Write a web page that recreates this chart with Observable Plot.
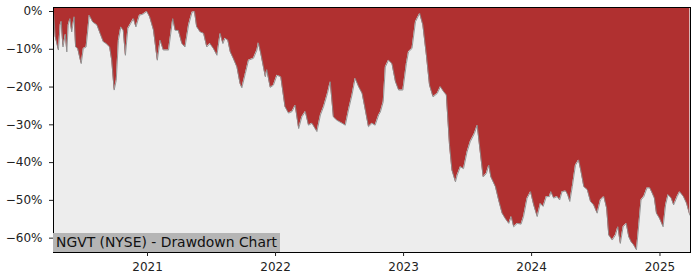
<!DOCTYPE html>
<html><head><meta charset="utf-8">
<script src="https://cdn.jsdelivr.net/npm/d3@7"></script>
<script src="https://cdn.jsdelivr.net/npm/@observablehq/plot@0.6"></script>
<style>
body{margin:0;background:#fff;}
#chart{position:relative;width:700px;height:280px;font-family:"DejaVu Sans",sans-serif;}
#label{position:absolute;left:53px;top:233px;height:19px;line-height:19px;padding:0 3px;background:#b5b5b5;font-size:13.9px;color:#111;white-space:nowrap;}
</style></head><body>
<div id="chart"><div id="label"></div></div>
<script>
const chartTitle = "NGVT (NYSE) - Drawdown Chart";
const dates = [
"2020-04-08","2020-04-13","2020-04-22","2020-04-27","2020-04-30","2020-05-05","2020-05-12","2020-05-16","2020-05-20","2020-05-25","2020-05-30","2020-06-06","2020-06-10","2020-06-16","2020-06-26","2020-07-02","2020-07-10","2020-07-19","2020-07-29","2020-08-10","2020-08-19","2020-08-28","2020-09-05","2020-09-15","2020-09-21","2020-09-28","2020-10-04","2020-10-10","2020-10-17","2020-10-24","2020-10-30","2020-11-06","2020-11-14","2020-11-22","2020-11-29","2020-12-09","2020-12-19","2020-12-30",
"2021-01-07","2021-01-18","2021-01-29","2021-02-06","2021-02-15","2021-03-02","2021-03-14","2021-03-21","2021-03-30","2021-04-09","2021-04-18","2021-04-28","2021-05-08","2021-05-15","2021-05-21","2021-05-31","2021-06-10","2021-06-19","2021-06-28","2021-07-08","2021-07-18","2021-07-27","2021-08-04","2021-08-10","2021-08-18","2021-08-25","2021-09-03","2021-09-13","2021-09-22","2021-09-27","2021-10-07","2021-10-16","2021-10-30","2021-11-09","2021-11-13","2021-11-20","2021-12-03","2021-12-07","2021-12-17","2021-12-26",
"2022-01-05","2022-01-16","2022-01-28","2022-02-07","2022-02-17","2022-02-26","2022-03-08","2022-03-17","2022-03-27","2022-04-05","2022-04-15","2022-04-29","2022-05-09","2022-05-18","2022-05-29","2022-06-06","2022-06-15","2022-06-25","2022-07-10","2022-07-19","2022-07-28","2022-08-07","2022-08-16","2022-08-26","2022-09-05","2022-09-14","2022-09-23","2022-10-03","2022-10-12","2022-10-22","2022-10-27","2022-11-04","2022-11-10","2022-11-19","2022-11-29","2022-12-09","2022-12-18","2022-12-30",
"2023-01-09","2023-01-15","2023-01-25","2023-02-04","2023-02-16","2023-02-25","2023-03-07","2023-03-16","2023-03-26","2023-04-07","2023-04-16","2023-04-25","2023-05-03","2023-05-12","2023-05-19","2023-05-29","2023-06-03","2023-06-12","2023-06-21","2023-07-01","2023-07-10","2023-07-22","2023-07-30","2023-08-06","2023-08-16","2023-08-25","2023-09-01","2023-09-07","2023-09-20","2023-09-29","2023-10-09","2023-10-18","2023-10-28","2023-11-04","2023-11-11","2023-11-21","2023-12-02","2023-12-09","2023-12-19","2023-12-29",
"2024-01-07","2024-01-17","2024-01-26","2024-02-03","2024-02-12","2024-02-21","2024-02-25","2024-03-04","2024-03-14","2024-03-21","2024-03-28","2024-04-07","2024-04-13","2024-04-19","2024-04-26","2024-05-05","2024-05-14","2024-05-21","2024-05-29","2024-06-08","2024-06-17","2024-06-26","2024-07-06","2024-07-15","2024-07-25","2024-08-02","2024-08-08","2024-08-18","2024-08-27","2024-09-03","2024-09-10","2024-09-18","2024-09-27","2024-10-04","2024-10-11","2024-10-18","2024-10-26","2024-11-02","2024-11-08","2024-11-16","2024-11-25","2024-12-03","2024-12-10","2024-12-16","2024-12-22","2024-12-31",
"2025-01-10","2025-01-17","2025-01-24","2025-02-02","2025-02-09","2025-02-19","2025-02-26","2025-03-09","2025-03-18","2025-03-27"
];
const drawdown = [
0,-6.7,-10.2,-3.6,-2.6,-9.4,-6,-10.7,-3.6,-1.9,-5.4,-1.4,-9.4,-9.8,-13.8,-9.8,-9.4,-1,-2.8,-3.6,-5.8,-8,-8.5,-9.4,-12.9,-20.8,-18.2,-7.6,-4.1,-5,-11.6,-4.5,-3.2,-1.9,-4.1,-1,-0.7,0,
-1.4,-4.9,-12.9,-7.6,-10.2,-10.2,-1.9,-5,-5,-8.5,-9.4,-3.6,-0.2,0,-4,-5.4,-5.8,-9.4,-8.5,-9.8,-11.6,-5.8,-8.5,-7.1,-7.6,-10.7,-12.5,-14.7,-19.1,-20.2,-16.4,-12.9,-12.4,-10.2,-8.3,-11.1,-17.3,-15.4,-20.1,-19.5,
-16.9,-17.3,-25.2,-26.9,-26.5,-24.8,-31,-27.9,-26.5,-30.1,-29.6,-31.8,-27.4,-25.2,-21.7,-18.6,-27.9,-28.8,-29.6,-30.1,-26.1,-22.1,-17.7,-19.9,-21.7,-26.1,-30.5,-29.6,-30.1,-27.4,-26.6,-23.9,-14.7,-12.9,-13.8,-18.6,-20.8,-20.8,
-13.8,-10.7,-9.8,-2.7,-0.5,-3.6,-11.5,-19.5,-22.6,-21.7,-19.9,-21.2,-22.1,-35.4,-42,-45.1,-43.3,-41.1,-41.6,-37.2,-34.5,-32.3,-30.1,-35.9,-43.8,-42.9,-40.7,-43.8,-46.4,-49.9,-53.4,-54.8,-56.1,-54.3,-57,-56.1,-56.3,-54.3,-49.5,-47.7,
-51.2,-54.3,-50.8,-51.6,-49,-49,-47.7,-49.4,-49,-49.9,-47.7,-47.5,-48.5,-50.3,-46.4,-40.7,-39.3,-42.4,-46.4,-47.2,-50.3,-51.2,-53.4,-49.9,-49,-52.1,-59.2,-60.5,-59.2,-57,-61.4,-57,-56.1,-59.6,-61,-61.8,-63.1,-56.1,-49.9,-49,-46.7,-46.7,-48.1,-49.4,-53.4,-54.8,
-57,-51.2,-48.5,-49.4,-51.2,-49,-47.7,-49,-50.8,-53.9
];
const yTicks = [0, -10, -20, -30, -40, -50, -60];
const xTickLabels = ["2021", "2022", "2023", "2024", "2025"];
const xStart = "2020-04-08", xEnd = "2025-03-29";
const yMin = -63.8, yMax = 1.06;

const data = dates.map((d, i) => ({date: new Date(d), dd: drawdown[i]}));
const xTicks = xTickLabels.map(y => new Date(y + "-01-01"));

const plot = Plot.plot({
  width: 700, height: 280,
  marginLeft: 53, marginRight: 10, marginTop: 7, marginBottom: 28,
  style: {fontFamily: "DejaVu Sans, sans-serif", fontSize: "12px", color: "#222", background: "transparent"},
  x: {type: "utc", domain: [new Date(xStart), new Date(xEnd)]},
  y: {domain: [yMin, yMax]},
  marks: [
    Plot.frame({fill: "#ededed", stroke: "none"}),
    Plot.areaY(data, {x: "date", y1: yMax, y2: "dd", fill: "#b03030"}),
    Plot.lineY(data, {x: "date", y: "dd", stroke: "#8c8c8c", strokeWidth: 0.9}),
    Plot.frame({stroke: "#000", strokeWidth: 1}),
    Plot.axisY({ticks: yTicks, tickFormat: d => (d < 0 ? "\u2212" : "") + Math.abs(d) + "%", tickSize: 4, tickPadding: 7, label: null, fontSize: 12}),
    Plot.axisX({ticks: xTicks, tickFormat: d => d3.utcFormat("%Y")(d), tickSize: 4, tickPadding: 6, label: null, fontSize: 12})
  ]
});
const chart = document.getElementById("chart");
chart.insertBefore(plot, chart.firstChild);
document.getElementById("label").textContent = chartTitle;
</script>
</body></html>
